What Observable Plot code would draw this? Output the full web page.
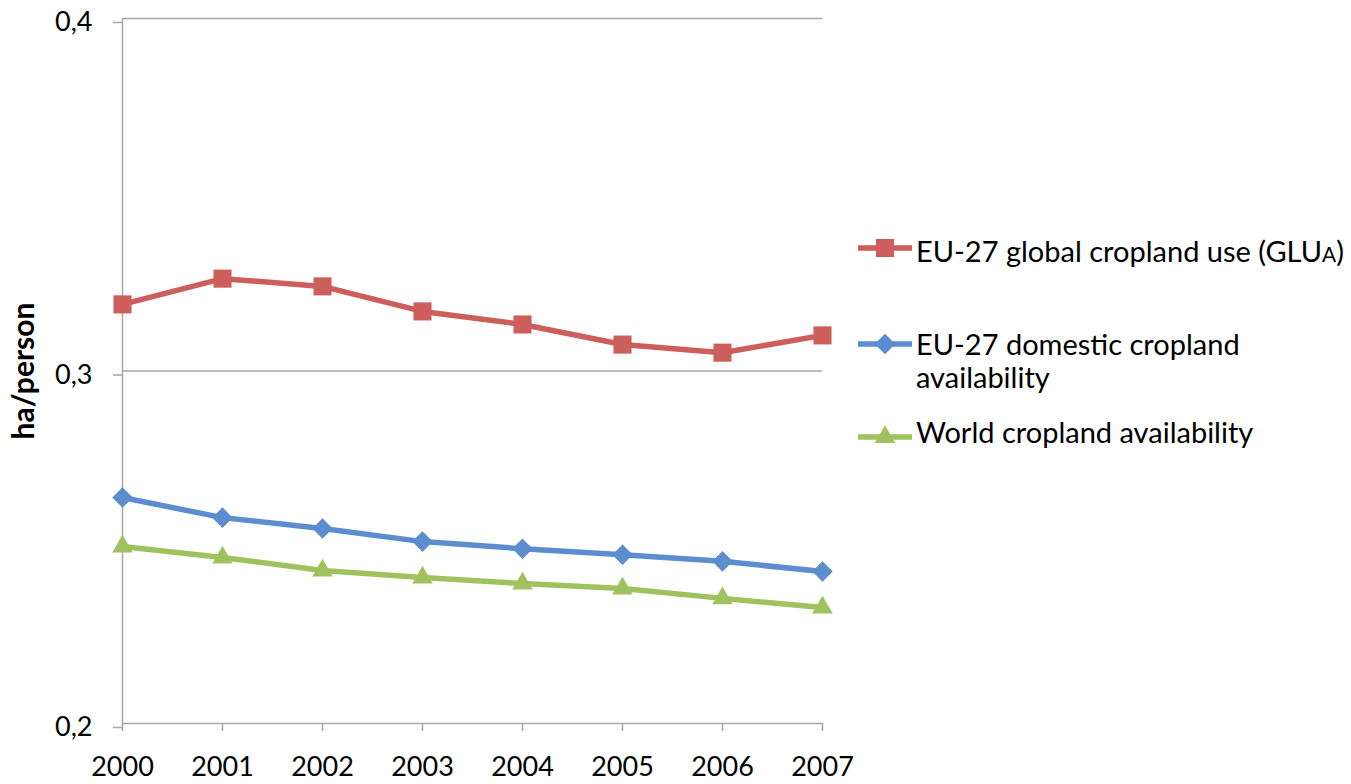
<!DOCTYPE html>
<html>
<head>
<meta charset="utf-8">
<script src="https://cdn.jsdelivr.net/npm/d3@7"></script>
<script src="https://cdn.jsdelivr.net/npm/@observablehq/plot@0.6"></script>
<style>
  html, body { margin: 0; padding: 0; background: #fff; }
  #wrap { position: relative; width: 1351px; height: 784px; font-family: Lato, "Open Sans", sans-serif; }
  #wrap svg text { fill: #000; }
  .leg-sw { position: absolute; }
  .leg-tx { position: absolute; font-size: 29px; line-height: 1; color: #000; white-space: nowrap; }
  .leg-tx.two { line-height: 33px; }
  .small { font-size: 0.72em; }
</style>
</head>
<body>
<div id="wrap"></div>
<script>
// ---- data ----
const years = [2000, 2001, 2002, 2003, 2004, 2005, 2006, 2007];
const globalUse = [0.3189, 0.3262, 0.3240, 0.3169, 0.3132, 0.3075, 0.3052, 0.3101];
const domesticAvail = [0.2641, 0.2584, 0.2553, 0.2516, 0.2496, 0.2479, 0.2460, 0.2431];
const worldAvail = [0.2502, 0.2471, 0.2434, 0.2414, 0.2397, 0.2383, 0.2355, 0.2329];
const yTicks = [0.2, 0.3, 0.4];
const yLabel = "ha/person";
const seriesNames = ["EU-27 global cropland use (GLUA)", "EU-27 domestic cropland availability", "World cropland availability"];
const seriesColors = ["#cc5e5b", "#5b8dcf", "#9fc25e"];

const diamondSym = {
  draw(ctx, size) {
    const r = Math.sqrt(size / 2);
    ctx.moveTo(0, -r); ctx.lineTo(r, 0); ctx.lineTo(0, r); ctx.lineTo(-r, 0); ctx.closePath();
  }
};
const symbols = ["square", diamondSym, "triangle"];
const radii = [10.2, 8.2, 7.6];

const seriesValues = [globalUse, domesticAvail, worldAvail];
const rows = seriesValues.map((vals, i) => years.map((yr, j) => ({year: yr, value: vals[j], series: seriesNames[i]})));

const gray = "#a6a6a6";
const marks = [
  Plot.ruleY(yTicks.filter(t => t > 0.2), {stroke: gray, strokeWidth: 1.5}),
  Plot.ruleY([0.2], {stroke: gray, strokeWidth: 1.5}),
  Plot.ruleX([2000], {stroke: gray, strokeWidth: 1.5}),
  Plot.axisY({ticks: yTicks, tickSize: 9, tickPadding: 21, stroke: gray, strokeWidth: 1.5,
    tickFormat: d => d.toFixed(1).replace(".", ","), dy: 4, label: null}),
  Plot.axisX({ticks: years, tickSize: 8, tickPadding: 25, stroke: gray, strokeWidth: 1.5,
    tickFormat: d => String(d), label: null}),
  Plot.text([yLabel], {frameAnchor: "left", textAnchor: "middle", lineAnchor: "middle", rotate: -90,
    dx: -98, dy: 0, fontWeight: "bold", fontSize: 30, fill: "#000"})
];
rows.forEach((data, i) => {
  marks.push(Plot.line(data, {x: "year", y: "value", stroke: seriesColors[i], strokeWidth: 5.5}));
  marks.push(Plot.dot(data, {x: "year", y: "value", fill: seriesColors[i], stroke: "none", symbol: () => symbols[i], r: radii[i]}));
});

const chart = Plot.plot({
  width: 1351, height: 784,
  marginLeft: 122, marginRight: 529, marginTop: 18, marginBottom: 61,
  style: {fontFamily: "Lato, 'Open Sans', sans-serif", fontSize: "27px", background: "#fff", overflow: "visible"},
  x: {type: "linear", domain: [2000, 2007]},
  y: {domain: [0.2, 0.4]},
  symbol: {type: "identity"},
  marks
});
const wrap = document.getElementById("wrap");
wrap.appendChild(chart);

// ---- legend (HTML) ----
const legendLayout = [
  {swTop: 248, txTop: 236, html: 'EU-27 global cropland use (GLU<span class="small">A</span>)', two: false},
  {swTop: 344, txTop: 327, html: 'EU-27 domestic cropland<br>availability', two: true},
  {swTop: 437, txTop: 417, html: 'World cropland availability', two: false}
];
legendLayout.forEach((L, i) => {
  const sw = d3.create("svg").attr("class", "leg-sw").attr("width", 58).attr("height", 28)
    .style("left", "856px").style("top", (L.swTop - 14) + "px");
  sw.append("line").attr("x1", 2).attr("x2", 56).attr("y1", 14).attr("y2", 14)
    .attr("stroke", seriesColors[i]).attr("stroke-width", 5.5);
  const symType = i === 0 ? d3.symbolSquare : i === 2 ? d3.symbolTriangle : diamondSym;
  sw.append("path").attr("transform", "translate(29,14)")
    .attr("d", d3.symbol(symType, Math.PI * radii[i] * radii[i])())
    .attr("fill", seriesColors[i]);
  wrap.appendChild(sw.node());
  const tx = document.createElement("div");
  tx.className = "leg-tx" + (L.two ? " two" : "");
  tx.style.left = "916px";
  tx.style.top = L.txTop + "px";
  tx.innerHTML = L.html;
  wrap.appendChild(tx);
});
</script>
</body>
</html>
